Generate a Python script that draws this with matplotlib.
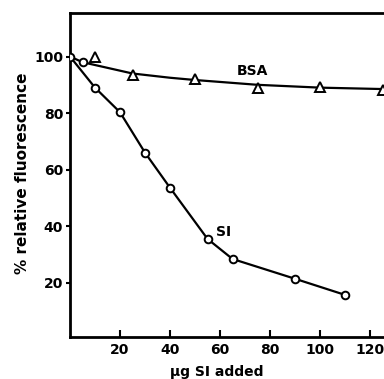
import numpy as np
import matplotlib.pyplot as plt

# SI series (circles)
si_x = [0, 10, 20, 30, 40, 55, 65, 90, 110]
si_y = [100, 89, 80.3, 66, 53.6, 35.5, 28.4, 21.4, 15.7]

# BSA series (triangles)
bsa_x = [10, 25, 50, 75, 100, 125]
bsa_y = [100, 93.5, 92, 89, 89.3, 88]
# extra circle lying on the BSA curve
bsa_circ_x = [5]
bsa_circ_y = [98]
# hand-drawn BSA curve
bsa_curve_x = [0, 5, 10, 15, 25, 40, 50, 75, 100, 125]
bsa_curve_y = [100, 98, 97, 96, 94, 92.5, 91.7, 90, 89, 88.5]

xticks = [20, 40, 60, 80, 100, 120]
yticks = [20, 40, 60, 80, 100]

plt.rcParams['font.family'] = ['DejaVu Sans']
plt.rcParams['font.weight'] = 'bold'

fig = plt.figure(figsize=(3.84, 3.79), dpi=100)
ax = fig.add_axes([70/384, 1 - 337/379, 1 - 70/384, (337 - 13)/379])

ax.plot(bsa_curve_x, bsa_curve_y, 'k-', lw=1.6, zorder=2)
ax.plot(si_x, si_y, 'k-', lw=1.6, zorder=2)
ax.plot(si_x, si_y, 'o', ms=5.5, mfc='white', mec='black', mew=1.4, zorder=3)
ax.plot(bsa_circ_x, bsa_circ_y, 'o', ms=5.5, mfc='white', mec='black', mew=1.4, zorder=3)
ax.plot(bsa_x, bsa_y, '^', ms=6.5, mfc='white', mec='black', mew=1.4, zorder=3, clip_on=False)

ax.text(73, 95, 'BSA', fontsize=10, fontweight='bold', ha='center', va='center')
ax.text(61.5, 38, 'SI', fontsize=10, fontweight='bold', ha='center', va='center')

ax.set_xlim(0, 125.6)
ax.set_ylim(0.8, 115.4)
ax.set_xticks(xticks)
ax.set_yticks(yticks)
ax.tick_params(axis='x', direction='in', length=5, width=1.5, labelsize=10, pad=4)
ax.tick_params(axis='y', direction='out', length=3, width=1.5, labelsize=10, pad=2)

for s in ['left', 'bottom', 'top']:
    ax.spines[s].set_linewidth(2)
ax.spines['right'].set_visible(False)

ax.set_xlabel('\u03bcg SI added', fontsize=10, fontweight='bold')
ax.set_ylabel('% relative fluorescence', fontsize=11, fontweight='bold')
ax.xaxis.set_label_coords(0.468, -0.085)
ax.yaxis.set_label_coords(-0.128, 0.505)

fig.savefig('out.png', dpi=100)
